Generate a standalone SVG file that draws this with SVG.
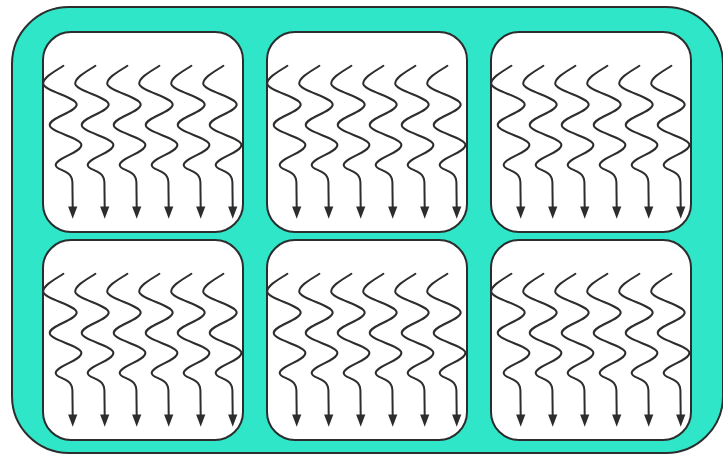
<svg xmlns="http://www.w3.org/2000/svg" width="723" height="455" viewBox="0 0 723 455">
<style>
.outer{fill:#30E6C8;stroke:#2b2d2e;stroke-width:2}
.box{fill:#ffffff;stroke:#2b2d2e;stroke-width:2}
.wl{fill:none;stroke:#2b2d2e;stroke-width:2;stroke-linecap:round;stroke-linejoin:round}
.ah{fill:#2b2d2e;stroke:none}
</style>
<defs>
<g id="wave">
<path class="wl" d="M -9.3 33.7 C -17 39, -29.5 45, -29.5 51.5 C -29.5 59, 4 65, 4 72.5 C 4 80, -23 85.5, -23 93 C -23 100.5, 8.7 105.5, 8.7 113 C 8.7 120.5, -17 126, -17 133 C -17 139, -1 137, -0.3 150 L 0 176"/>
<polygon class="ah" points="-4.6,174.5 4.6,174.5 0,186.8"/>
</g>
<g id="waves">
<use href="#wave" x="29.7" y="0"/>
<use href="#wave" x="61.7" y="0"/>
<use href="#wave" x="93.7" y="0"/>
<use href="#wave" x="125.7" y="0"/>
<use href="#wave" x="157.7" y="0"/>
<use href="#wave" x="189.7" y="0"/>
</g>
</defs>
<rect width="723" height="455" fill="#ffffff"/>
<g id="container">
<rect class="outer" x="12" y="7" width="711" height="446" rx="57" ry="57"/>
</g>
<g id="box1"><rect class="box" x="43" y="32" width="200" height="200" rx="28" ry="28"/><use href="#waves" x="43" y="32"/></g>
<g id="box2"><rect class="box" x="267" y="32" width="200" height="200" rx="28" ry="28"/><use href="#waves" x="267" y="32"/></g>
<g id="box3"><rect class="box" x="491" y="32" width="200" height="200" rx="28" ry="28"/><use href="#waves" x="491" y="32"/></g>
<g id="box4"><rect class="box" x="43" y="240" width="200" height="200" rx="28" ry="28"/><use href="#waves" x="43" y="240"/></g>
<g id="box5"><rect class="box" x="267" y="240" width="200" height="200" rx="28" ry="28"/><use href="#waves" x="267" y="240"/></g>
<g id="box6"><rect class="box" x="491" y="240" width="200" height="200" rx="28" ry="28"/><use href="#waves" x="491" y="240"/></g>
<g id="connectors"></g>
</svg>
